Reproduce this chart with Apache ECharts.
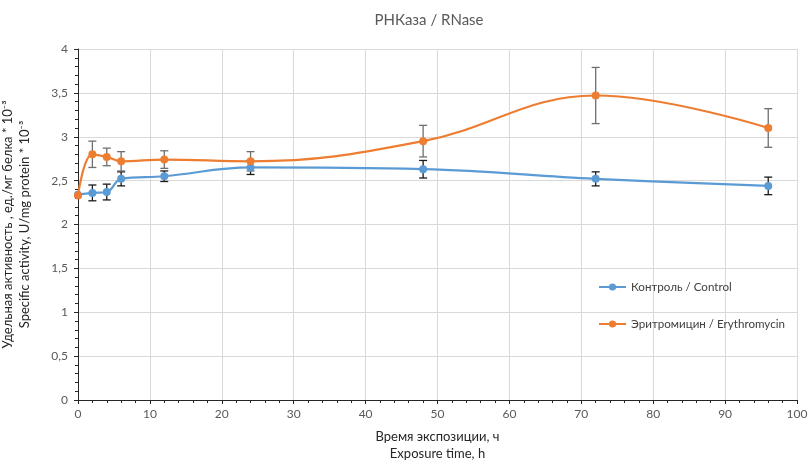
<!DOCTYPE html>
<html><head><meta charset="utf-8">
<script src="https://cdn.jsdelivr.net/npm/echarts@6/dist/echarts.min.js"></script>
<style>html,body{margin:0;padding:0;background:#fff}#c{width:808px;height:462px}</style>
</head><body><div id="c"></div>
<script>
const hours = [0, 2, 4, 6, 12, 24, 48, 72, 96];
const controlValues = [2.34, 2.36, 2.37, 2.52, 2.55, 2.65, 2.63, 2.52, 2.44];
const controlErrors = [0.0, 0.09, 0.09, 0.08, 0.06, 0.08, 0.10, 0.08, 0.10];
const erythroValues = [2.33, 2.80, 2.77, 2.72, 2.74, 2.72, 2.95, 3.47, 3.10];
const erythroErrors = [0.0, 0.15, 0.10, 0.11, 0.10, 0.11, 0.18, 0.32, 0.22];
const xTicks = [0, 10, 20, 30, 40, 50, 60, 70, 80, 90, 100];
const yTicks = [0, 0.5, 1, 1.5, 2, 2.5, 3, 3.5, 4];

const FONT = 'Lato, "Open Sans", sans-serif';
const BLUE = '#5b9bd5', ORANGE = '#ed7d31';

function pairs(v){ return hours.map((h,i)=>[h, v[i]]); }
function errs(v,e){ return hours.map((h,i)=>[h, v[i]-e[i], v[i]+e[i]]); }

function errRender(color){
  return function(params, api){
    const x = api.value(0), lo = api.value(1), hi = api.value(2);
    const a = api.coord([x, lo]), b = api.coord([x, hi]);
    const w = 4;
    const st = {stroke: color, lineWidth: 1.3};
    return {type:'group', children:[
      {type:'line', shape:{x1:a[0], y1:a[1], x2:b[0], y2:b[1]}, style:st},
      {type:'line', shape:{x1:a[0]-w, y1:a[1], x2:a[0]+w, y2:a[1]}, style:st},
      {type:'line', shape:{x1:b[0]-w, y1:b[1], x2:b[0]+w, y2:b[1]}, style:st}
    ]};
  };
}

const chart = echarts.init(document.getElementById('c'));
chart.setOption({
  animation:false,
  textStyle:{fontFamily:FONT},
  title:{text:'РНКаза / RNase', left:424, top:8, textAlign:'center',
    textStyle:{fontFamily:FONT, fontSize:15, fontWeight:'normal', color:'#595959'}},
  grid:{left:78, right:11, top:49, bottom:62, outerBoundsMode:'none', containLabel:false},
  legend:{orient:'vertical', left:598, top:281, padding:0, itemGap:25, itemWidth:27, itemHeight:9,
    textStyle:{fontFamily:FONT, fontSize:11.6, color:'#404040'},
    data:['Контроль / Control','Эритромицин / Erythromycin']},
  xAxis:{type:'value', min:0, max:100, interval:10, z:1,
    name:'Время экспозиции, ч\nExposure time, h', nameLocation:'middle', nameGap:28,
    nameTextStyle:{fontFamily:FONT, fontSize:13, color:'#262626', lineHeight:17},
    axisLine:{show:true, lineStyle:{color:'#262626', width:1}},
    axisTick:{show:true, length:4, lineStyle:{color:'#262626'}},
    minorTick:{show:true, splitNumber:5, length:3, lineStyle:{color:'#262626'}},
    axisLabel:{fontFamily:FONT, fontSize:12, color:'#595959', margin:8,
      formatter:v=> xTicks.includes(v) ? String(v) : ''},
    splitLine:{show:true, lineStyle:{color:'#d9d9d9', width:1}}},
  yAxis:{type:'value', min:0, max:4, interval:0.5, z:1,
    name:'Удельная активность , ед./мг белка * 10⁻³\nSpecific activity, U/mg protein * 10⁻³',
    nameLocation:'middle', nameGap:45,
    nameTextStyle:{fontFamily:FONT, fontSize:13, color:'#262626', lineHeight:17},
    axisLine:{show:true, lineStyle:{color:'#262626', width:1}},
    axisTick:{show:true, length:4, lineStyle:{color:'#262626'}},
    minorTick:{show:true, splitNumber:5, length:3, lineStyle:{color:'#262626'}},
    axisLabel:{fontFamily:FONT, fontSize:12, color:'#595959', margin:10,
      formatter:v=> yTicks.includes(v) ? String(v).replace('.', ',') : ''},
    splitLine:{show:true, lineStyle:{color:'#d9d9d9', width:1}}},
  series:[
    {type:'custom', name:'errC', renderItem:errRender('#1a1a1a'), data:errs(controlValues, controlErrors), z:3, silent:true, clip:false},
    {type:'custom', name:'errE', renderItem:errRender('#6f6f6f'), data:errs(erythroValues, erythroErrors), z:3, silent:true, clip:false},
    {type:'line', name:'Контроль / Control', data:pairs(controlValues), smooth:0.4, clip:false,
      symbol:'circle', symbolSize:8, color:BLUE, lineStyle:{width:2.2, color:BLUE}, itemStyle:{color:BLUE}, z:4},
    {type:'line', name:'Эритромицин / Erythromycin', data:pairs(erythroValues), smooth:0.4, clip:false,
      symbol:'circle', symbolSize:8, color:ORANGE, lineStyle:{width:2.2, color:ORANGE}, itemStyle:{color:ORANGE}, z:5}
  ]
});
</script></body></html>
